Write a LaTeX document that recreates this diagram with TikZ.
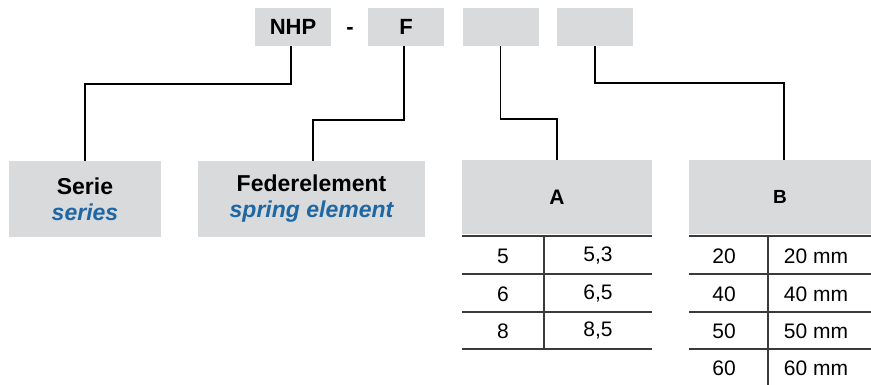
\documentclass[tikz,border=0pt]{standalone}
\usepackage{fontspec}
\setmainfont{Liberation Sans}
\definecolor{boxgray}{HTML}{D9DADC}
\definecolor{serblue}{HTML}{1F67A3}
\definecolor{rulegray}{HTML}{3A3A3A}

\begin{document}
\begin{tikzpicture}[x=1pt,y=-1pt,
  codebox/.style={fill=boxgray,minimum width=76pt,minimum height=38pt,inner sep=0pt,
    font=\fontsize{22}{26}\selectfont\bfseries},
  namebox/.style={fill=boxgray,minimum height=76pt,inner sep=0pt,align=center,
    font=\fontsize{23}{26}\selectfont\bfseries},
  hdrbox/.style={fill=boxgray,minimum height=74pt,inner sep=0pt,
    font=\fontsize{21}{24}\selectfont\bfseries},
  cell/.style={inner sep=0pt,font=\fontsize{21}{24}\selectfont},
  link/.style={line width=1.5pt,black},
  rule/.style={line width=1.2pt,rulegray}]
  \useasboundingbox (0,0) rectangle (871,385);
  % code fields
  \node[codebox] (nhp) at (293,27) {NHP};
  \node[font=\fontsize{22}{26}\selectfont\bfseries] (dash) at (350,31) {-};
  \node[codebox] (fld) at (406,27) {F};
  \node[codebox] (fldA) at (500.5,27) {};
  \node[codebox] (fldB) at (595,27) {};
  % descriptions
  \node[namebox,minimum width=152pt] (serie) at (85,199)
    {Serie\\\textcolor{serblue}{\itshape series}};
  \node[namebox,minimum width=227pt] (feder) at (311.5,199)
    {Federelement\\\textcolor{serblue}{\itshape spring element}};
  \node[hdrbox,minimum width=190pt] (hdrA) at (557,197) {A};
  \node[hdrbox,minimum width=182pt,font=\fontsize{19}{22}\selectfont\bfseries] (hdrB) at (780,197) {B};
  % connectors
  \draw[link] ([xshift=-2pt]nhp.south) -- ++(0,38) -| (serie.north);
  \draw[link] ([xshift=-2pt]fld.south) -- ++(0,74) -| ([xshift=1.5pt]feder.north);
  \draw[link] (fldA.south) -- ++(0,73) -| (hdrA.north);
  \draw[link] (fldB.south) -- ++(0,37) -| ([xshift=4pt]hdrB.north);
  % table A
  \foreach \y in {236,274,312,349}
    \draw[rule] (462,\y) -- (652,\y);
  \draw[rule] (544,236) -- (544,349);
  \foreach \y/\l/\r in {256/5/{5,3},294/6/{6,5},331/8/{8,5}}
  {
    \node[cell] (aL\y) at (503,\y) {\l};
    \node[cell] (aR\y) at (598,\y) {\r};
  }
  % table B
  \foreach \y in {236,274,312,349}
    \draw[rule] (689,\y) -- (871,\y);
  \draw[rule] (768,236) -- (768,385);
  \foreach \y/\v in {256/20,294/40,331/50,368/60}
  {
    \node[cell] (bL\y) at (724,\y) {\v};
    \node[cell] (bR\y) at (816,\y) {\v{} mm};
  }
\end{tikzpicture}
\end{document}
